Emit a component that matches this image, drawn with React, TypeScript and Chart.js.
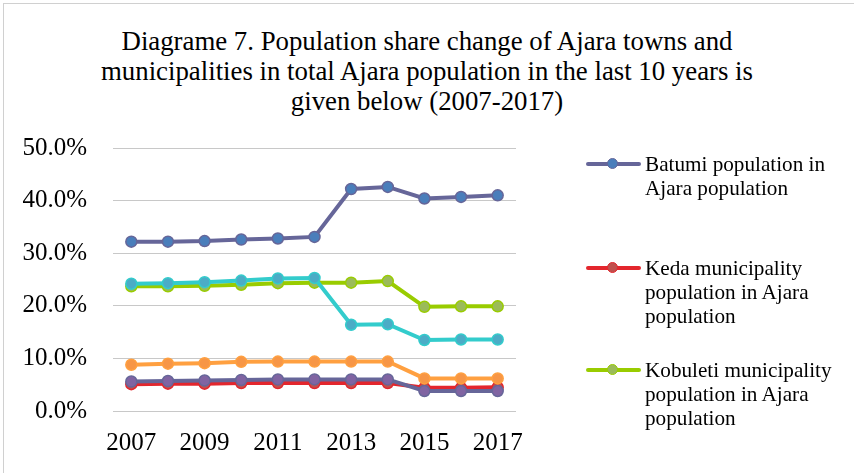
import React, { useEffect, useRef } from "react";
import { Chart, registerables } from "chart.js";

Chart.register(...registerables);

const years = ["2007", "2008", "2009", "2010", "2011", "2012", "2013", "2014", "2015", "2016", "2017"];
const batumi = [32.2, 32.2, 32.3, 32.6, 32.8, 33.1, 42.2, 42.6, 40.4, 40.7, 41.0];
const keda = [5.1, 5.2, 5.2, 5.3, 5.3, 5.3, 5.3, 5.3, 4.4, 4.4, 4.5];
const kobuleti = [23.7, 23.7, 23.8, 24.0, 24.3, 24.4, 24.4, 24.7, 19.8, 19.9, 19.9];
const shuakhevi = [5.6, 5.7, 5.8, 5.9, 6.0, 6.0, 6.0, 6.0, 3.8, 3.8, 3.8];
const khelvachauri = [24.2, 24.3, 24.5, 24.8, 25.2, 25.3, 16.4, 16.5, 13.5, 13.6, 13.6];
const khulo = [8.8, 9.0, 9.1, 9.35, 9.4, 9.4, 9.4, 9.4, 6.2, 6.2, 6.2];
const yTicks = [0, 10, 20, 30, 40, 50];

const titleLines = [
  "Diagrame 7. Population share change of Ajara towns and",
  "municipalities in total Ajara population in the last 10 years is",
  "given below (2007-2017)",
];

const seriesNames = [
  "Batumi population in Ajara population",
  "Keda municipality population in Ajara population",
  "Kobuleti municipality population in Ajara population",
  "Shuakhevi municipality population in Ajara population",
  "Khelvachauri municipality population in Ajara population",
  "Khulo municipality population in Ajara population",
];
const seriesData = [batumi, keda, kobuleti, shuakhevi, khelvachauri, khulo];
const lineColors = ["#666699", "#e3262d", "#99cc00", "#666699", "#33cccc", "#ffa040"];
const markerColors = ["#4a7ebb", "#c0504d", "#9bbb59", "#8064a2", "#4bacc6", "#f79646"];

const serif = "'Liberation Serif', 'Times New Roman', serif";

const legendItems = [
  { idx: 0, top: 152 },
  { idx: 1, top: 256 },
  { idx: 2, top: 358 },
];

export default function App() {
  const ref = useRef<HTMLCanvasElement>(null);

  useEffect(() => {
    if (!ref.current) return;
    const chart = new Chart(ref.current, {
      type: "line",
      data: {
        labels: years,
        datasets: seriesData.map((d, i) => ({
          label: seriesNames[i],
          data: d,
          borderColor: lineColors[i],
          backgroundColor: markerColors[i],
          borderWidth: 4,
          pointRadius: 5.5,
          pointBorderWidth: 1.5,
          pointBackgroundColor: markerColors[i],
          pointBorderColor: lineColors[i],
          tension: 0,
          fill: false,
          order: seriesData.length - i,
        })),
      },
      options: {
        responsive: false,
        animation: false,
        layout: { padding: { top: 148, right: 338, bottom: 0, left: 0 } },
        plugins: {
          legend: { display: false },
          title: { display: false },
          tooltip: { enabled: false },
        },
        scales: {
          x: {
            offset: true,
            grid: { display: false, drawTicks: false },
            border: { display: false },
            ticks: {
              autoSkip: false,
              maxRotation: 0,
              padding: 17,
              color: "#000",
              font: { family: serif, size: 25 },
              callback: (_v: any, i: number) => (i % 2 === 0 ? years[i] : ""),
            },
            afterFit: (s: any) => {
              s.height = 62;
            },
          },
          y: {
            min: yTicks[0],
            max: yTicks[yTicks.length - 1],
            grid: { color: "#c8c8c8", lineWidth: 1, drawTicks: false },
            border: { display: false },
            ticks: {
              stepSize: 10,
              padding: 26,
              color: "#000",
              font: { family: serif, size: 25 },
              callback: (v: any) => Number(v).toFixed(1) + "%",
            },
            afterFit: (s: any) => {
              s.width = 113;
            },
          },
        },
      },
    });
    return () => chart.destroy();
  }, []);

  return (
    <div style={{ position: "absolute", left: 0, top: 0, width: 854, height: 473, overflow: "hidden", background: "#fff" }}>
      <div
        style={{
          position: "absolute",
          left: 3,
          top: 3,
          width: 860,
          height: 480,
          borderTop: "1px solid #d0d0d0",
          borderLeft: "1px solid #d0d0d0",
        }}
      />
      <div
        style={{
          position: "absolute",
          left: 0,
          top: 26,
          width: 854,
          textAlign: "center",
          fontFamily: serif,
          fontSize: 26.8,
          lineHeight: "30px",
          color: "#000",
        }}
      >
        {titleLines.map((t, i) => (
          <div key={i} style={{ whiteSpace: "nowrap" }}>{t}</div>
        ))}
      </div>
      <canvas ref={ref} width={854} height={473} style={{ position: "absolute", left: 0, top: 0, width: 854, height: 473 }} />
      {legendItems.map(({ idx, top }) => (
        <div key={idx} style={{ position: "absolute", left: 586, top, width: 270 }}>
          <div style={{ position: "absolute", left: 0, top: 10, width: 55, height: 4, background: lineColors[idx], borderRadius: 2 }} />
          <div
            style={{
              position: "absolute",
              left: 21,
              top: 6,
              width: 9,
              height: 9,
              borderRadius: "50%",
              background: markerColors[idx],
              border: `1.5px solid ${lineColors[idx]}`,
            }}
          />
          <div
            style={{
              position: "absolute",
              left: 59,
              top: 0,
              width: 200,
              fontFamily: serif,
              fontSize: 21.2,
              lineHeight: "24px",
              color: "#000",
            }}
          >
            {seriesNames[idx]}
          </div>
        </div>
      ))}
    </div>
  );
}
